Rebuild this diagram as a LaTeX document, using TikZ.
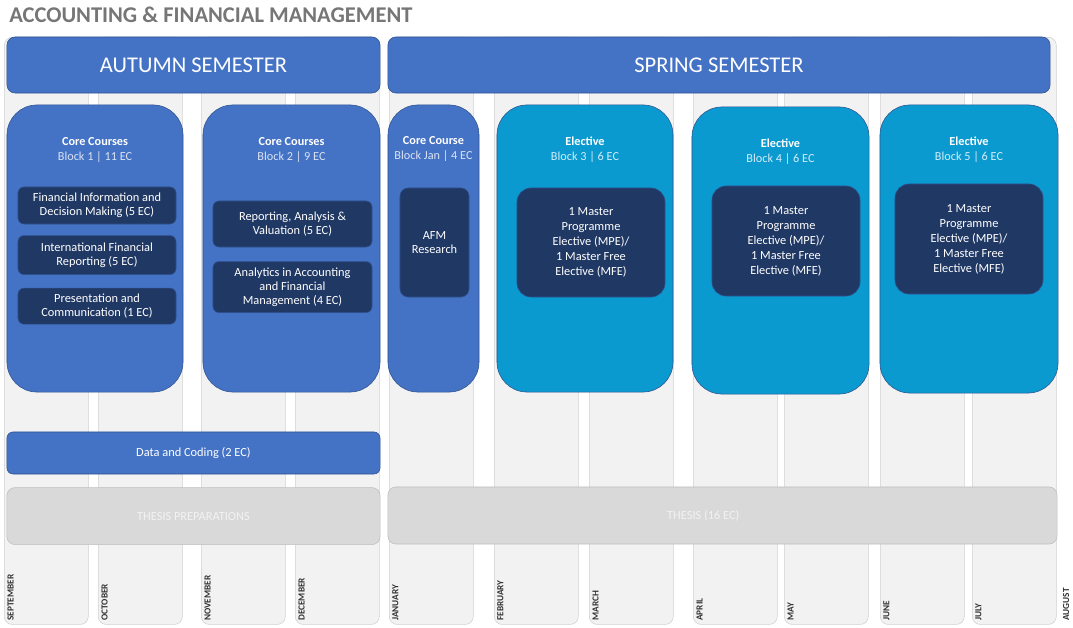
\documentclass[tikz,border=0pt]{standalone}
\usepackage{fontspec}
\setmainfont{Carlito}
\usetikzlibrary{positioning}

\definecolor{afmblue}{HTML}{4472C4}
\definecolor{afmedge}{HTML}{2F528F}
\definecolor{afmnavy}{HTML}{203864}
\definecolor{afmcyan}{HTML}{0A9AD0}
\definecolor{afmgrey}{HTML}{F2F2F2}
\definecolor{afmline}{HTML}{D0D0D0}
\definecolor{afmthesis}{HTML}{D9D9D9}
\definecolor{afmtitle}{HTML}{767676}
\definecolor{afmpale}{HTML}{DAE3F3}
\definecolor{afmice}{HTML}{D2EEF9}

\begin{document}
\begin{tikzpicture}[
    x=0.025cm, y=-0.025cm,
    node distance=0.3cm,
    every node/.style={inner sep=0pt, align=center},
    month/.style={rectangle, rounded corners=0.2cm, draw=afmline, fill=afmgrey, minimum width=2.1cm, minimum height=14.675cm},
    monthlabel/.style={rotate=90, anchor=west, font=\fontsize{6.6}{8}\selectfont\bfseries, text=black!80},
    semester/.style={rectangle, rounded corners=0.2cm, draw=afmedge, fill=afmblue, minimum height=1.4cm, text=white, font=\fontsize{16}{18}\selectfont},
    core/.style={rectangle, rounded corners=0.75cm, draw=afmedge, fill=afmblue, minimum height=7.175cm},
    elective/.style={core, fill=afmcyan},
    blockhead/.style={text=white, font=\fontsize{8.7}{10.7}\selectfont},
    course/.style={rectangle, rounded corners=0.15cm, draw=afmedge, fill=afmnavy, text=white, minimum width=3.95cm, font=\fontsize{8.8}{10}\selectfont},
    choice/.style={course, rounded corners=0.35cm, minimum width=3.7cm, minimum height=2.725cm, font=\fontsize{8.8}{10.7}\selectfont},
    strip/.style={rectangle, rounded corners=0.15cm, draw=afmedge, fill=afmblue, text=white, minimum width=9.325cm, minimum height=1.05cm, font=\fontsize{8.8}{10}\selectfont},
    thesisbox/.style={rectangle, rounded corners=0.2cm, draw=black!25, fill=afmthesis, text=afmgrey, minimum height=1.425cm, font=\fontsize{8.8}{10}\selectfont}
]
    \useasboundingbox (0,0) rectangle (1073,628);

    % month columns
    \foreach \cx/\mname [count=\i] in {4/SEPTEMBER, 98/OCTOBER, 201/NOVEMBER, 295/DECEMBER, 389/JANUARY, 494/FEBRUARY, 589/MARCH, 693/APRIL, 784/MAY, 880/JUNE, 972/JULY} {
        \node[month, anchor=north west] (col\i) at (\cx,37) {};
        \node[monthlabel] (lbl\i) at (\cx+6.5,621) {\mname};
    }
    \node[monthlabel] (lbl12) at (1066,621) {AUGUST};

    \node[anchor=west, text=afmtitle, font=\fontsize{16}{19}\selectfont\bfseries] (title) at (9,15) {ACCOUNTING \& FINANCIAL MANAGEMENT};

    \node[semester, minimum width=9.325cm] (autumn) at (193.5,65) {AUTUMN SEMESTER};
    \node[semester, minimum width=16.55cm] (spring) at (719,65) {SPRING SEMESTER};

    % autumn blocks
    \node[core, minimum width=4.4cm] (b1) at (95,248.5) {};
    \node[blockhead] (b1head) at (95,150) {\textbf{Core Courses}\\{\color{afmpale}Block 1 | 11 EC}};
    \node[course, minimum height=0.925cm] (fin) at (97,205.5) {Financial Information and\\Decision Making (5 EC)};
    \node[course, minimum height=0.975cm, below=0.275cm of fin] (ifr) {International Financial\\Reporting (5 EC)};
    \node[course, minimum height=0.9cm, below=0.325cm of ifr] (pres) {Presentation and\\Communication (1 EC)};

    \node[core, minimum width=4.425cm] (b2) at (291.5,248.5) {};
    \node[blockhead] (b2head) at (291.5,150) {\textbf{Core Courses}\\{\color{afmpale}Block 2 | 9 EC}};
    \node[course, minimum width=3.975cm, minimum height=1.15cm] (rav) at (292.5,224) {Reporting, Analysis \&\\Valuation (5 EC)};
    \node[course, minimum width=3.975cm, minimum height=1.275cm, below=0.35cm of rav] (aafm) {Analytics in Accounting\\and Financial\\Management (4 EC)};

    % spring blocks
    \node[core, minimum width=2.275cm] (bjan) at (433.5,248.5) {};
    \node[blockhead] (bjanhead) at (433.5,149) {\textbf{Core Course}\\{\color{afmpale}Block Jan | 4 EC}};
    \node[course, rounded corners=0.2cm, minimum width=1.725cm, minimum height=2.725cm] (afm) at (434.5,242.5) {AFM\\Research};

    \node[elective, minimum width=4.4cm] (b3) at (585,248.5) {};
    \node[blockhead] (b3head) at (585,150) {\textbf{Elective}\\{\color{afmice}Block 3 | 6 EC}};
    \node[choice] (e3) at (591,242.5) {1 Master\\Programme\\Elective (MPE)/\\1 Master Free\\Elective (MFE)};

    \node[elective, minimum width=4.425cm] (b4) at (780.5,250.5) {};
    \node[blockhead] (b4head) at (780.5,152) {\textbf{Elective}\\{\color{afmice}Block 4 | 6 EC}};
    \node[choice, minimum height=2.75cm] (e4) at (786,241) {1 Master\\Programme\\Elective (MPE)/\\1 Master Free\\Elective (MFE)};

    \node[elective, minimum width=4.45cm, minimum height=7.2cm] (b5) at (969,249) {};
    \node[blockhead] (b5head) at (969,150) {\textbf{Elective}\\{\color{afmice}Block 5 | 6 EC}};
    \node[choice, minimum height=2.75cm] (e5) at (969,239) {1 Master\\Programme\\Elective (MPE)/\\1 Master Free\\Elective (MFE)};

    % bottom strips
    \node[strip] (data) at (193.5,453) {Data and Coding (2 EC)};
    \node[thesisbox, minimum width=9.325cm, below=0.325cm of data] (prep) {THESIS PREPARATIONS};
    \node[thesisbox, minimum width=16.725cm, label={[text=afmgrey, font=\fontsize{8.8}{10}\selectfont, xshift=-0.48cm]center:THESIS (16 EC)}] (thesis) at (722.5,515.5) {};
\end{tikzpicture}
\end{document}
